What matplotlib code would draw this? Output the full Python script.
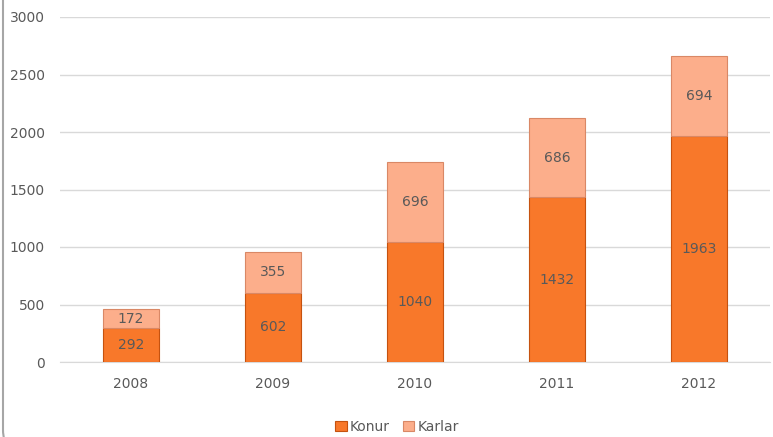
import numpy as np
import matplotlib.pyplot as plt
from matplotlib.patches import FancyBboxPatch

years = ['2008', '2009', '2010', '2011', '2012']
konur = [292, 602, 1040, 1432, 1963]
karlar = [172, 355, 696, 686, 694]

konur_color = '#F8782A'
karlar_color = '#FCAE8B'
text_color = '#595959'

fig = plt.figure(figsize=(7.73, 4.37), dpi=100)
ax = fig.add_axes([60 / 773, 1 - 362 / 437, 710 / 773, 345 / 437])

x = np.arange(len(years))
w = 0.4
b1 = ax.bar(x, konur, w, color=konur_color, edgecolor='#C5520F', linewidth=0.8, label='Konur', zorder=3)
b2 = ax.bar(x, karlar, w, bottom=konur, color=karlar_color, edgecolor='#D98866', linewidth=0.8,
            label='Karlar', zorder=3)

for i in range(len(years)):
    ax.text(x[i], konur[i] / 2, str(konur[i]), ha='center', va='center', fontsize=10,
            color=text_color, zorder=4)
    ax.text(x[i], konur[i] + karlar[i] / 2, str(karlar[i]), ha='center', va='center',
            fontsize=10, color=text_color, zorder=4)

ax.set_xlim(-0.5, 4.5)
ax.set_ylim(0, 3000)
ax.set_yticks(range(0, 3001, 500))
ax.set_xticks(x)
ax.set_xticklabels(years)
ax.yaxis.grid(True, color='#D9D9D9', linewidth=1, zorder=0)
ax.set_axisbelow(True)
for s in ['top', 'right', 'left']:
    ax.spines[s].set_visible(False)
ax.spines['bottom'].set_color('#D9D9D9')
ax.tick_params(axis='both', length=0, labelsize=10, colors=text_color)
ax.tick_params(axis='x', pad=11)
ax.tick_params(axis='y', pad=11)

fig.legend(handles=[b1, b2], labels=['Konur', 'Karlar'], loc='center', bbox_to_anchor=(397 / 773, 1 - 427 / 437),
           ncol=2, frameon=False, fontsize=10, handlelength=0.8, handleheight=0.8,
           handletextpad=0.2, columnspacing=1.0, labelcolor=text_color)

# outer chart border (only left edge and bottom-left corner visible), in pixels
border = FancyBboxPatch((3, -15), 900, 500, boxstyle='round,pad=0,rounding_size=22',
                        transform=None, fill=False, edgecolor='#A6A6A6', linewidth=1.5)
fig.patches.append(border)

fig.savefig('out.png', dpi=100)
